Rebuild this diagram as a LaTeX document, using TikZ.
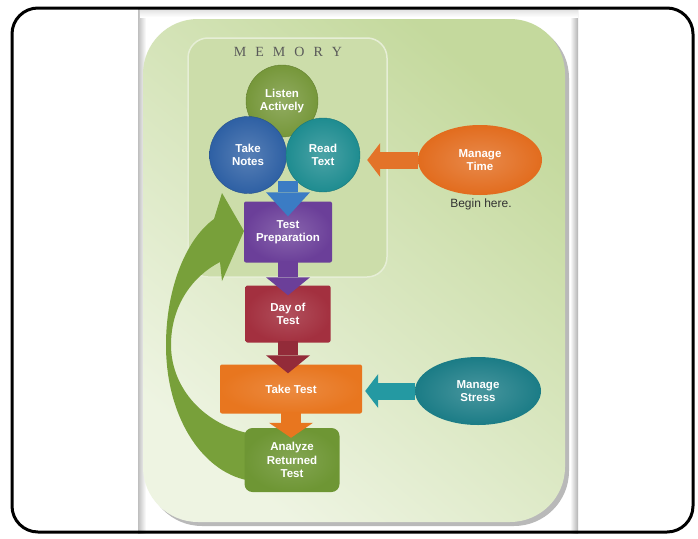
\documentclass[tikz,border=0pt]{standalone}
\usepackage{fontspec}
\setmainfont{Liberation Sans}
\newfontfamily\memfont{Liberation Serif}
\usetikzlibrary{shapes.geometric,arrows.meta,shadows}

\definecolor{panellight}{HTML}{EEF4E2}
\definecolor{paneldark}{HTML}{C4D99D}
\definecolor{memfill}{HTML}{CCDDAA}
\definecolor{memline}{HTML}{E6EED6}
\definecolor{listengreen}{HTML}{76973A}
\definecolor{notesblue}{HTML}{2E60A4}
\definecolor{readteal}{HTML}{1E8C90}
\definecolor{arrowblue}{HTML}{3B7CC4}
\definecolor{preppurple}{HTML}{6B3F99}
\definecolor{dayred}{HTML}{A3303F}
\definecolor{takeorange}{HTML}{E8761F}
\definecolor{analyzegreen}{HTML}{6E9634}
\definecolor{timeorange}{HTML}{E26C1E}
\definecolor{stressteal}{HTML}{1B7C86}
\definecolor{stressarrow}{HTML}{2499A2}
\definecolor{loopgreen}{HTML}{78A03A}

\tikzset{
    stepfont/.style={font=\bfseries\fontsize{11.5}{13.5}\selectfont, text=white, align=center},
    bubble/.style={circle, inner sep=0pt, stepfont, minimum size=#1},
    stepbox/.style={rectangle, rounded corners=2pt, inner sep=0pt, stepfont},
    oval/.style={ellipse, inner sep=0pt, stepfont, minimum width=124pt, minimum height=70pt},
    blockdown/.style={line width=20pt, -{Triangle[length=#1 0 0, width=44pt 0 0, line width=0pt 0 0]}},
    blockleft/.style={line width=17pt, -{Triangle[length=13pt 0 0, width=34pt 0 0, line width=0pt 0 0]}}
}

\begin{document}
\begin{tikzpicture}[x=1pt, y=-1pt]
    \useasboundingbox (0, 0) rectangle (698, 538);
    \fill[white] (0, 0) rectangle (698, 538);

    % slide panel
    \fill[white] (140, 9) rectangle (578, 533);
    \shade[left color=black!25, right color=white] (138, 9) rectangle (146, 533);
    \shade[left color=white, right color=black!30] (570, 9) rectangle (578, 533);
    \shade[top color=black!12, bottom color=white] (140, 9) rectangle (578, 17);
    \shade[top color=paneldark, bottom color=panellight, shading angle=-40,
        rounded corners=55pt,
        drop shadow={shadow xshift=4pt, shadow yshift=-4pt, opacity=0.55}]
        (143, 19) rectangle (565, 522);

    % memory group
    \filldraw[fill=memfill, draw=memline, line width=1.5pt, rounded corners=20pt]
        (188, 38) rectangle (387, 277);
    \node (memory) at (288, 52) {\memfont\fontsize{14}{14}\selectfont\color{black!65}%
        M\hspace{9pt}E\hspace{9pt}M\hspace{9pt}O\hspace{9pt}R\hspace{9pt}Y};

    % loop back
    \fill[loopgreen]
        (247, 433) .. controls (200, 422) and (171, 385) .. (171, 345)
        .. controls (171, 305) and (193, 276) .. (220, 262)
        -- (222, 281) -- (244, 231) -- (222, 193) -- (214, 219)
        .. controls (185, 240) and (166, 290) .. (166, 345)
        .. controls (166, 420) and (205, 475) .. (252, 481) -- cycle;

    % steps
    \node[bubble=72pt, draw=listengreen!85!black, inner color=listengreen!80!white, outer color=listengreen]
        (listen) at (282, 101) {Listen\\Actively};
    \node[bubble=77pt, draw=notesblue!85!black, inner color=notesblue!80!white, outer color=notesblue]
        (notes) at (248, 155) {Take\\Notes};
    \node[bubble=74pt, draw=readteal!85!black, inner color=readteal!80!white, outer color=readteal]
        (read) at (323, 155) {Read\\Text};
    \node[stepbox, minimum width=88pt, minimum height=61pt,
        inner color=preppurple!80!white, outer color=preppurple]
        (prep) at (288, 232) {Test\\Preparation};
    \node[stepbox, minimum width=85pt, minimum height=57pt,
        inner color=dayred!85!white, outer color=dayred]
        (day) at (288, 314) {Day of\\Test};
    \node[stepbox, minimum width=142pt, minimum height=49pt,
        inner color=takeorange!85!white, outer color=takeorange]
        (take) at (291, 389) {Take Test};
    \node[stepbox, rounded corners=8pt, minimum width=95pt, minimum height=64pt,
        inner color=analyzegreen!85!white, outer color=analyzegreen]
        (analyze) at (292, 460) {Analyze\\Returned\\Test};

    % helpers
    \node[oval, inner color=timeorange!80!white, outer color=timeorange]
        (time) at (480, 160) {Manage\\Time};
    \node[font=\fontsize{12}{14}\selectfont, text=black!80] (begin) at (481, 204) {Begin here.};
    \node[oval, minimum width=126pt, minimum height=68pt,
        inner color=stressteal!80!white, outer color=stressteal]
        (stress) at (478, 391) {Manage\\Stress};

    % block arrows
    \draw[arrowblue, blockdown=24pt] (prep.north |- read.south west) -- ([yshift=-15pt]prep.north);
    \draw[preppurple, blockdown=18pt] ([yshift=2pt]prep.south) -- ([yshift=-10pt]day.north);
    \draw[dayred!90!black, blockdown=18pt] ([yshift=2pt]day.south) -- ([yshift=-9pt]day.south |- take.north);
    \draw[takeorange, blockdown=15pt] ([yshift=2pt]take.south) -- ([yshift=-10pt]take.south |- analyze.north);
    \draw[timeorange!95!white, blockleft] (time.west) -- ([xshift=7pt]read.east |- time.west);
    \draw[stressarrow, blockleft] (stress.west) -- ([xshift=3pt]take.east |- stress.west);

    % frame
    \draw[line width=3pt, rounded corners=26pt] (12, 8) rectangle (693, 532);
\end{tikzpicture}
\end{document}
